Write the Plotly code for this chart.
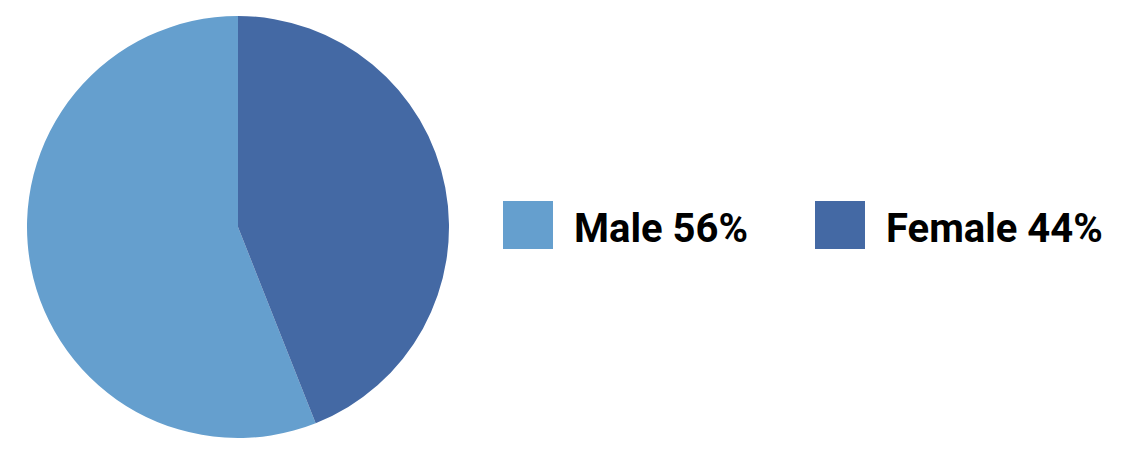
import plotly.graph_objects as go

W, H = 1135, 449

# data
labels = ["Male", "Female"]
values = [56, 44]
colors = ["#659fce", "#4469a4"]

fig = go.Figure()

# Male first so the legend order matches; rotate so Female starts at 12 o'clock
female_share = values[1] / sum(values)
fig.add_trace(
    go.Pie(
        labels=labels,
        values=values,
        sort=False,
        direction="clockwise",
        rotation=360 * female_share,
        marker=dict(colors=colors, line=dict(width=0)),
        textinfo="none",
        hoverinfo="label+percent",
        showlegend=False,
        domain=dict(x=[27 / W, 449 / W], y=[1 - 438 / H, 1 - 16 / H]),
    )
)

# legend drawn by hand (big squares, big condensed text)
legend_x = [503, 815]  # left edge of each square, px
for lab, val, col, x0 in zip(labels, values, colors, legend_x):
    fig.add_shape(
        type="rect",
        xref="paper",
        yref="paper",
        x0=x0 / W,
        x1=(x0 + 50) / W,
        y0=1 - 249 / H,
        y1=1 - 201 / H,
        fillcolor=col,
        line=dict(width=0),
    )
    fig.add_annotation(
        text="<b>%s %d%%</b>" % (lab, val),
        xref="paper",
        yref="paper",
        x=(x0 + 69) / W,
        y=1 - 228 / H,
        xanchor="left",
        yanchor="middle",
        showarrow=False,
        font=dict(family="Roboto, sans-serif", size=40, color="#000000"),
    )

fig.update_layout(
    width=W,
    height=H,
    margin=dict(l=0, r=0, t=0, b=0),
    paper_bgcolor="white",
    plot_bgcolor="white",
)

# page body has a default 8px margin; drop it so the figure sits at 0,0
fig.write_html(
    "out.html",
    config={"displayModeBar": False},
    post_script="document.body.style.margin='0';",
)
